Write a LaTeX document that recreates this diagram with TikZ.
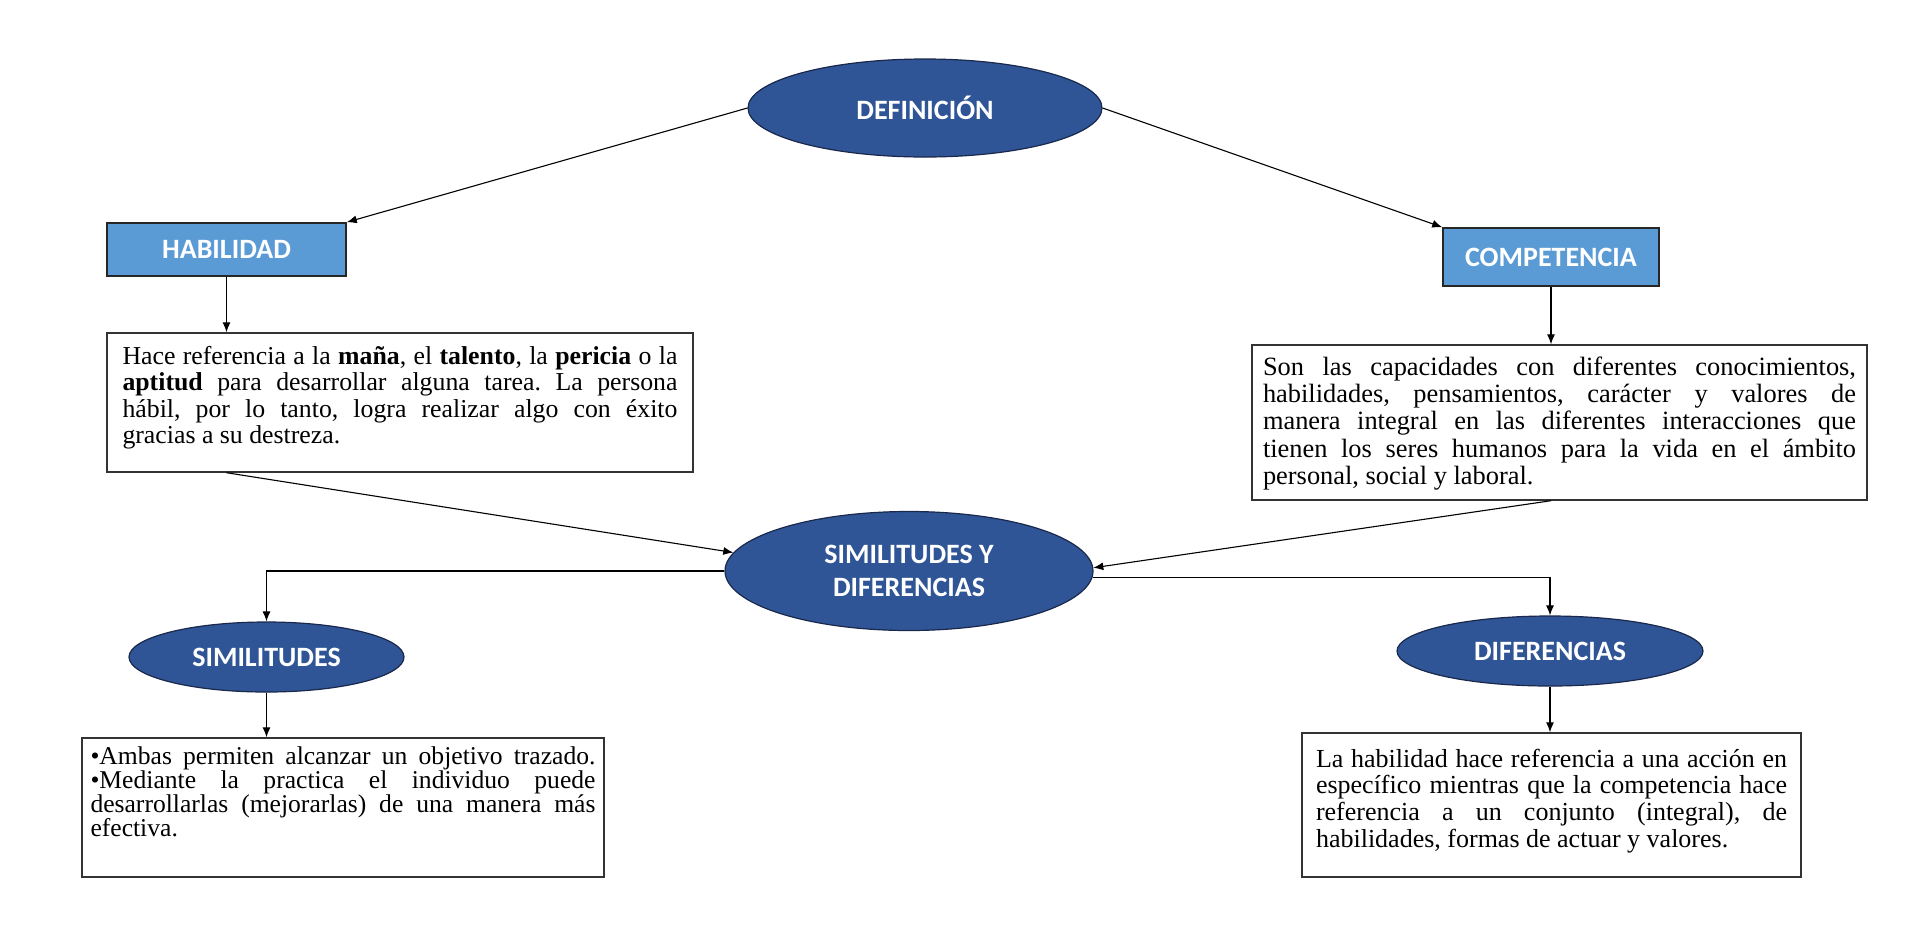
\documentclass[tikz,border=0pt]{standalone}
\usepackage{fontspec}
\setmainfont{Liberation Serif}
\newfontfamily\labelfont{Carlito}
\usetikzlibrary{shapes.geometric,arrows.meta}
\definecolor{ovalblue}{RGB}{47,85,151}
\definecolor{ovalline}{RGB}{25,40,75}
\definecolor{boxblue}{RGB}{91,155,213}
\newcommand\bodyfont{\fontsize{12.9pt}{13.3pt}\selectfont}
\newcommand\headfont{\labelfont\bfseries\fontsize{14pt}{16.5pt}\selectfont}
\hyphenpenalty=10000
\tolerance=10000
\frenchspacing
\begin{document}
\begin{tikzpicture}[x=0.5pt,y=-0.5pt]
        \tikzstyle{oval} = [ellipse,fill=ovalblue,draw=ovalline,line width=0.6pt,inner sep=0pt,text=white,font=\headfont,align=center]
        \tikzstyle{headbox} = [rectangle,fill=boxblue,draw=black!85,line width=0.8pt,inner sep=0pt,text=white,font=\headfont]
        \tikzstyle{textbox} = [rectangle,draw=black!80,line width=0.7pt,font=\bodyfont]
        \tikzstyle{link} = [-{Latex[length=5pt,width=4pt]},line width=0.55pt]
        \useasboundingbox (0,0) rectangle (1921,944);

            % top
            \node[oval,minimum width=177pt,minimum height=49pt] (def) at (925,108) {DEFINICIÓN};
            \node[headbox,minimum width=119.5pt,minimum height=26.5pt] (hab) at (226.5,249.5) {HABILIDAD};
            \node[headbox,minimum width=108pt,minimum height=29pt] (comp) at (1551,257) {COMPETENCIA};

            \node[textbox,inner xsep=7.75pt,inner ysep=6.5pt] (habtxt) at (400,402.5)
                {\parbox[c][56.5pt][t]{277.5pt}{Hace referencia a la \textbf{maña}, el \textbf{talento}, la \textbf{pericia} o la\linebreak
                \textbf{aptitud} para desarrollar alguna tarea. La persona\linebreak
                hábil, por lo tanto, logra realizar algo con éxito\linebreak
                gracias a su destreza.}};
            \node[textbox,inner xsep=5.5pt,inner ysep=6pt] (comptxt) at (1559.5,422.5)
                {\parbox[c][65.5pt][t]{296.5pt}{\fontsize{13.2pt}{13.6pt}\selectfont
                Son las capacidades con diferentes conocimientos,\linebreak
                habilidades, pensamientos, carácter y valores de\linebreak
                manera integral en las diferentes interacciones que\linebreak
                tienen los seres humanos para la vida en el ámbito\linebreak
                personal, social y laboral.}};

            % middle
            \node[oval,minimum width=184pt,minimum height=59.5pt] (simdif) at (909,571) {SIMILITUDES Y\\DIFERENCIAS};
            \node[oval,minimum width=137.5pt,minimum height=35pt] (sim) at (266.5,657) {SIMILITUDES};
            \node[oval,minimum width=153pt,minimum height=35pt] (dif) at (1550,651) {DIFERENCIAS};

            % bottom
            \node[textbox,inner xsep=4.25pt,inner ysep=4.5pt] (simtxt) at (343,807.5)
                {\parbox[c][60.5pt][t]{252.5pt}{\fontsize{12.8pt}{11.9pt}\selectfont
                •Ambas permiten alcanzar un objetivo trazado.\linebreak
                •Mediante la practica el individuo puede\linebreak
                desarrollarlas (mejorarlas) de una manera más\linebreak
                efectiva.}};
            \node[textbox,inner xsep=7pt,inner ysep=8pt] (diftxt) at (1551.5,805)
                {\parbox[c][56pt][t]{235.5pt}{\fontsize{13pt}{13.3pt}\selectfont
                La habilidad hace referencia a una acción en\linebreak
                específico mientras que la competencia hace\linebreak
                referencia a un conjunto (integral), de\linebreak
                habilidades, formas de actuar y valores.}};

            % connectors
            \draw[link] (def.west) -- (hab.north east);
            \draw[link] (def.east) -- (comp.north west);
            \draw[link] (hab.south) -- (hab.south |- habtxt.north);
            \draw[link] (comp.south) -- (comp.south |- comptxt.north);
            \draw[link] (habtxt.south -| hab.south) -- (simdif.174);
            \draw[link] (comptxt.south -| comp.south) -- (simdif.1);
            \draw[link] (simdif.west) -| (sim.north);
            \draw[link] (simdif.-2) -| (dif.north);
            \draw[link] (sim.south) -- (sim.south |- simtxt.north);
            \draw[link] (dif.south) -- (dif.south |- diftxt.north);
\end{tikzpicture}
\end{document}
